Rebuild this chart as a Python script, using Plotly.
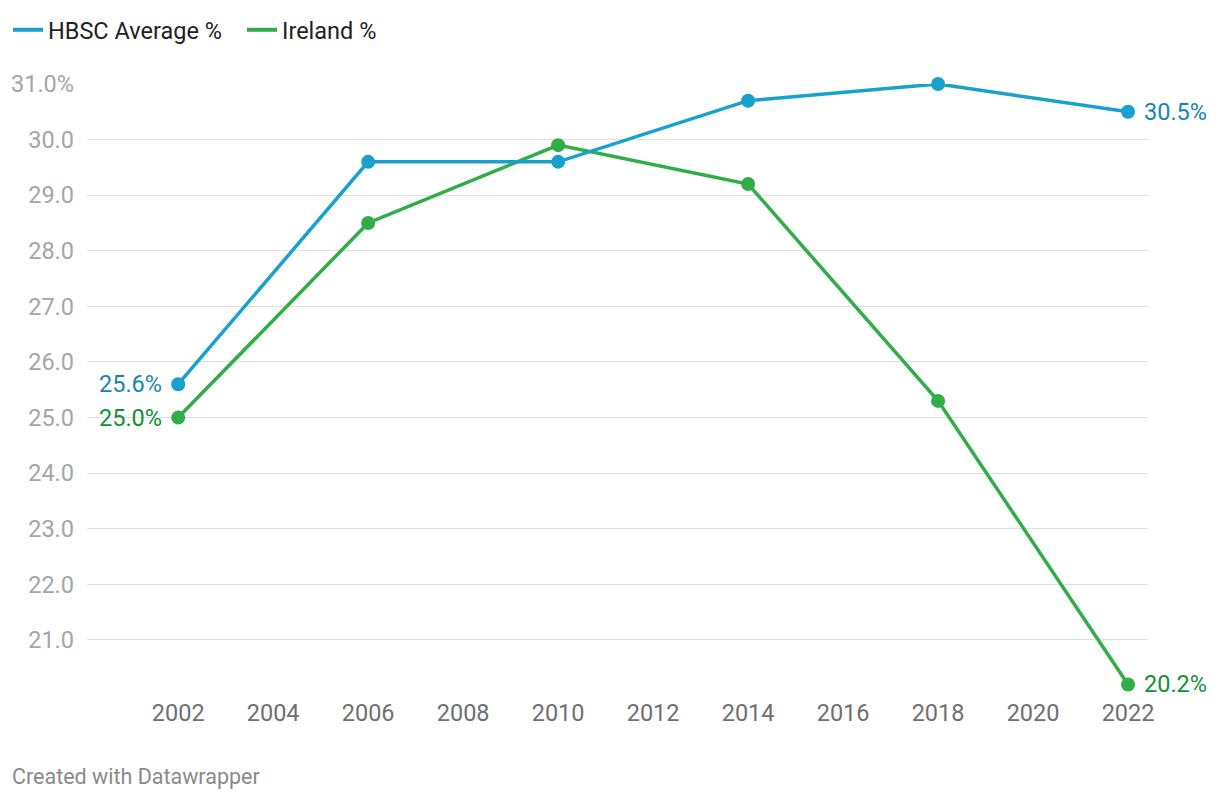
import plotly.graph_objects as go

years = [2002, 2006, 2010, 2014, 2018, 2022]
hbsc = [25.6, 29.6, 29.6, 30.7, 31.0, 30.5]
ireland = [25.0, 28.5, 29.9, 29.2, 25.3, 20.2]
y_ticks = [21, 22, 23, 24, 25, 26, 27, 28, 29, 30, 31]
y_ticktext = ["21.0", "22.0", "23.0", "24.0", "25.0", "26.0", "27.0", "28.0", "29.0", "30.0", "31.0%"]
x_ticks = list(range(2002, 2023, 2))

BLUE = "#18a1cd"
GREEN = "#31ad48"
BLUE_TXT = "#1586b3"
GREEN_TXT = "#0f9136"
FONT = "Roboto"
FS = 23.5

# page body has an 8px default margin, so the figure is drawn 8px in
W, H = 1212, 792
L, T = 79, 76
R = W - (1148 - 8)
B = H - (690 - 8)
PW, PH = W - L - R, H - T - B

fig = go.Figure()
fig.add_trace(go.Scatter(
    x=years, y=ireland, name="Ireland %", mode="lines+markers",
    line=dict(color=GREEN, width=3.5), marker=dict(size=14, color=GREEN),
    cliponaxis=False, showlegend=False,
))
fig.add_trace(go.Scatter(
    x=years, y=hbsc, name="HBSC Average %", mode="lines+markers",
    line=dict(color=BLUE, width=3.5), marker=dict(size=14, color=BLUE),
    cliponaxis=False, showlegend=False,
))
# legend entries (line-only symbols, as in the reference)
fig.add_trace(go.Scatter(
    x=[None], y=[None], name="HBSC Average %", mode="lines",
    line=dict(color=BLUE, width=4), legendrank=1,
))
fig.add_trace(go.Scatter(
    x=[None], y=[None], name="Ireland %", mode="lines",
    line=dict(color=GREEN, width=4), legendrank=2,
))

def lab(x, y, text, color, side):
    fig.add_annotation(
        x=x, y=y, xref="x", yref="y", text=text, showarrow=False,
        xanchor="right" if side == "left" else "left", yanchor="middle",
        xshift=-14 if side == "left" else 14,
        font=dict(family=FONT, size=FS, color=color),
    )

lab(years[0], hbsc[0], f"{hbsc[0]:.1f}%", BLUE_TXT, "left")
lab(years[0], ireland[0], f"{ireland[0]:.1f}%", GREEN_TXT, "left")
lab(years[-1], hbsc[-1], f"{hbsc[-1]:.1f}%", BLUE_TXT, "right")
lab(years[-1], ireland[-1], f"{ireland[-1]:.1f}%", GREEN_TXT, "right")

fig.add_annotation(
    x=(2 - L) / PW, y=(H - B - 768) / PH, xref="paper", yref="paper",
    text="Created with Datawrapper",
    showarrow=False, xanchor="left", yanchor="middle",
    font=dict(family=FONT, size=21.5, color="#8a8a8a"),
)

fig.update_layout(
    width=W, height=H,
    margin=dict(l=L, r=R, t=T, b=B, autoexpand=False),
    paper_bgcolor="white", plot_bgcolor="white",
    font=dict(family=FONT, size=FS),
    showlegend=True,
    legend=dict(
        orientation="h", x=(0 - L) / PW, y=1 + T / PH,
        xanchor="left", yanchor="top",
        font=dict(family=FONT, size=FS, color="#222222"),
        itemwidth=30, traceorder="normal",
        entrywidth=189, entrywidthmode="pixels",
        bgcolor="rgba(0,0,0,0)",
    ),
    xaxis=dict(
        range=[2000.08, 2022.42], tickvals=x_ticks, showgrid=False,
        zeroline=False, showline=False, ticks="",
        tickfont=dict(family=FONT, size=FS, color="#707070"),
        ticklabelstandoff=6,
    ),
    yaxis=dict(
        range=[20.1, 31.0], tickvals=y_ticks, ticktext=y_ticktext,
        showgrid=True, gridcolor="#e0e0e0", gridwidth=1.3,
        zeroline=False, showline=False, ticks="",
        tickfont=dict(family=FONT, size=FS, color="#a6a6a6"),
        ticklabelstandoff=12,
    ),
)

fig.write_html("out.html")
